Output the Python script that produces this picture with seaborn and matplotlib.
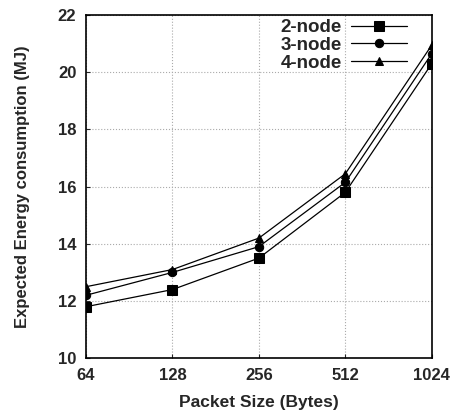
import pandas as pd
import matplotlib
matplotlib.use("Agg")
import matplotlib.pyplot as plt
import seaborn as sns

packet_sizes = [64, 128, 256, 512, 1024]
node2 = [11.8, 12.4, 13.5, 15.8, 20.3]
node3 = [12.2, 13.0, 13.9, 16.15, 20.65]
node4 = [12.5, 13.1, 14.2, 16.45, 20.95]
series_names = ["2-node", "3-node", "4-node"]

df = pd.DataFrame({
    "size": packet_sizes * 3,
    "energy": node2 + node3 + node4,
    "series": [s for s in series_names for _ in packet_sizes],
})

sns.set_style("ticks")
plt.rcParams["font.family"] = ["Liberation Sans", "DejaVu Sans"]
plt.rcParams["font.weight"] = "bold"

fig = plt.figure(figsize=(4.55, 4.17), dpi=100)
ax = fig.add_axes([0.189, 0.141, 0.760, 0.823])

markers = {"2-node": "s", "3-node": "o", "4-node": "^"}
sizes = {"2-node": 7, "3-node": 6, "4-node": 5.5}
for name in series_names:
    sub = df[df["series"] == name]
    sns.lineplot(data=sub, x="size", y="energy", ax=ax, color="black",
                 linewidth=0.9, marker=markers[name], markersize=sizes[name],
                 markeredgecolor="black", label=name)

ax.set_xscale("log", base=2)
ax.set_xticks(packet_sizes)
ax.set_xticklabels([str(p) for p in packet_sizes])
ax.minorticks_off()
ax.set_xlim(64, 1024)
ax.set_ylim(10, 22)
ax.set_yticks([10, 12, 14, 16, 18, 20, 22])
ax.grid(True, color="#aaaaaa", linestyle=":", linewidth=0.8)
ax.tick_params(direction="in", length=3, labelsize=12, width=0.8)
ax.tick_params(axis="x", pad=7)
ax.tick_params(axis="y", pad=7)
for lab in ax.get_xticklabels() + ax.get_yticklabels():
    lab.set_fontweight("bold")
for sp in ax.spines.values():
    sp.set_linewidth(1.2)
    sp.set_color("black")

ax.set_xlabel("Packet Size (Bytes)", fontsize=12.5, fontweight="bold", labelpad=9)
ax.set_ylabel("Expected Energy consumption (MJ)", fontsize=12, fontweight="bold", labelpad=20)

leg = ax.legend(loc="upper right", bbox_to_anchor=(0.951, 1.01), frameon=False,
                markerfirst=False, handlelength=3.0, handletextpad=0.5,
                labelspacing=0.03, borderaxespad=0.0,
                prop={"weight": "bold", "size": 13.5})

fig.savefig("out.png", dpi=100)
